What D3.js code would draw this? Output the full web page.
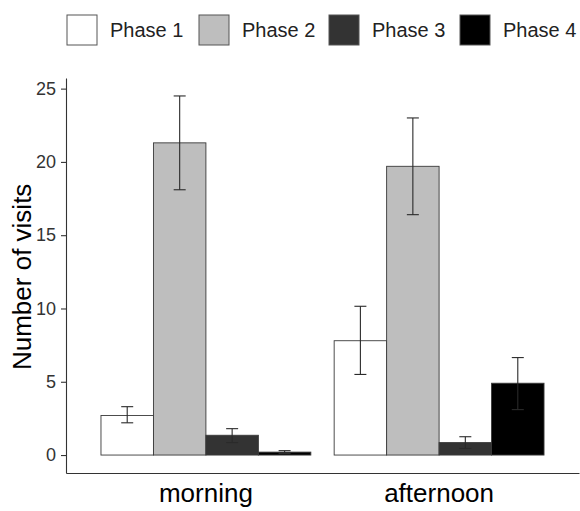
<!DOCTYPE html>
<html>
<head>
<meta charset="utf-8">
<script src="https://cdn.jsdelivr.net/npm/d3@7"></script>
<style>
  html, body { margin: 0; padding: 0; background: #fff; }
  svg { display: block; font-family: "Liberation Sans", Arial, sans-serif; }
</style>
</head>
<body>
<svg id="chart" width="580" height="511"></svg>
<script>
// ---- data ----
const times = ["morning", "afternoon"];
const phases = ["Phase 1", "Phase 2", "Phase 3", "Phase 4"];
const phaseColors = ["#ffffff", "#bebebe", "#333333", "#000000"];
const meanMorning   = [2.7, 21.3, 1.35, 0.2];
const lowerMorning  = [2.2, 18.1, 0.85, 0.1];
const upperMorning  = [3.3, 24.5, 1.8, 0.3];
const meanAfternoon  = [7.8, 19.7, 0.85, 4.9];
const lowerAfternoon = [5.5, 16.4, 0.45, 3.1];
const upperAfternoon = [10.15, 23.0, 1.25, 6.65];
const yTicks = [0, 5, 10, 15, 20, 25];
const yTitle = "Number of visits";

const rows = [];
times.forEach((t, ti) => {
  const m = ti === 0 ? meanMorning : meanAfternoon;
  const lo = ti === 0 ? lowerMorning : lowerAfternoon;
  const hi = ti === 0 ? upperMorning : upperAfternoon;
  phases.forEach((p, pi) => rows.push({ time: t, phase: p, mean: m[pi], lo: lo[pi], hi: hi[pi] }));
});

// ---- layout ----
const svg = d3.select("#chart");
const panel = { left: 66, right: 579, top: 78, bottom: 473 };

const x = d3.scaleBand().domain(times).range([panel.left, panel.right])
  .paddingInner(0.1).paddingOuter(0.15);
const xi = d3.scaleBand().domain(phases).range([0, x.bandwidth()]).padding(0);

const ymax = d3.max(rows, d => d.hi);
const ymin = 0;
const ex = (ymax - ymin) * 0.05;
const y = d3.scaleLinear().domain([ymin - ex, ymax + ex]).range([panel.bottom, panel.top]);
const color = d3.scaleOrdinal().domain(phases).range(phaseColors);

// bars
const g = svg.append("g");
g.selectAll("rect.bar").data(rows).join("rect")
  .attr("class", "bar")
  .attr("x", d => x(d.time) + xi(d.phase))
  .attr("width", xi.bandwidth())
  .attr("y", d => y(d.mean))
  .attr("height", d => y(0) - y(d.mean))
  .attr("fill", d => color(d.phase))
  .attr("stroke", "#3a3a3a")
  .attr("stroke-width", 0.9);

// error bars
const capW = 12;
const eb = g.selectAll("g.err").data(rows).join("g").attr("class", "err")
  .attr("stroke", "#2a2a2a").attr("stroke-width", 1.1);
eb.append("line")
  .attr("x1", d => x(d.time) + xi(d.phase) + xi.bandwidth() / 2)
  .attr("x2", d => x(d.time) + xi(d.phase) + xi.bandwidth() / 2)
  .attr("y1", d => y(d.lo)).attr("y2", d => y(d.hi));
eb.append("line")
  .attr("x1", d => x(d.time) + xi(d.phase) + xi.bandwidth() / 2 - capW / 2)
  .attr("x2", d => x(d.time) + xi(d.phase) + xi.bandwidth() / 2 + capW / 2)
  .attr("y1", d => y(d.hi)).attr("y2", d => y(d.hi));
eb.append("line")
  .attr("x1", d => x(d.time) + xi(d.phase) + xi.bandwidth() / 2 - capW / 2)
  .attr("x2", d => x(d.time) + xi(d.phase) + xi.bandwidth() / 2 + capW / 2)
  .attr("y1", d => y(d.lo)).attr("y2", d => y(d.lo));

// y axis
const yAxis = svg.append("g").attr("transform", `translate(${panel.left},0)`)
  .call(d3.axisLeft(y).tickValues(yTicks).tickSize(5).tickPadding(5).tickSizeOuter(0));
yAxis.select(".domain").attr("stroke", "#333").attr("stroke-width", 1.1);
yAxis.selectAll(".tick line").attr("stroke", "#333").attr("stroke-width", 1.1);
yAxis.selectAll(".tick text").attr("fill", "#333").style("font-size", "18px")
  .style("font-family", "Liberation Sans, Arial, sans-serif");

// x axis
const xAxis = svg.append("g").attr("transform", `translate(0,${panel.bottom})`)
  .call(d3.axisBottom(x).tickSize(0).tickPadding(11).tickSizeOuter(0));
xAxis.select(".domain").attr("stroke", "#333").attr("stroke-width", 1.1);
xAxis.selectAll(".tick text").attr("fill", "#000").style("font-size", "26px")
  .style("font-family", "Liberation Sans, Arial, sans-serif");

// y title
svg.append("text")
  .attr("transform", `translate(31,${(y(ymin) + y(25)) / 2 + 5}) rotate(-90)`)
  .attr("text-anchor", "middle")
  .style("font-size", "26px")
  .attr("fill", "#000")
  .text(yTitle);

// legend
const legendX = [67, 199, 329, 460];
const lg = svg.append("g").selectAll("g").data(phases).join("g")
  .attr("transform", (d, i) => `translate(${legendX[i]},15)`);
lg.append("rect").attr("width", 30).attr("height", 30)
  .attr("fill", d => color(d)).attr("stroke", "#555").attr("stroke-width", 1);
lg.append("text").attr("x", 43).attr("y", 22)
  .style("font-size", "20px").attr("fill", "#222").text(d => d);
</script>
</body>
</html>
